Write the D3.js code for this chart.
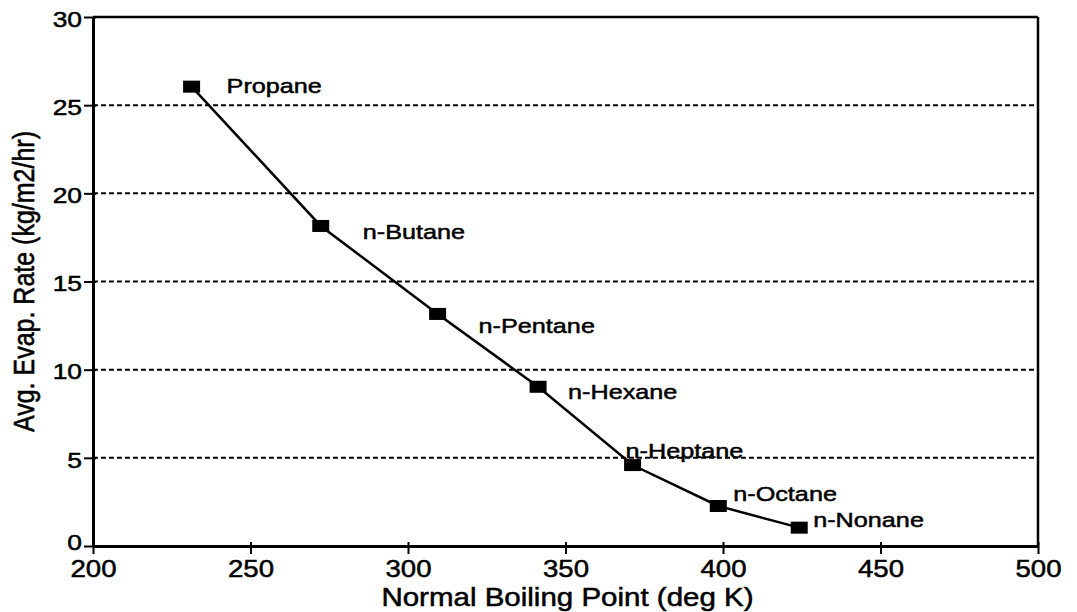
<!DOCTYPE html>
<html>
<head>
<meta charset="utf-8">
<script src="https://cdn.jsdelivr.net/npm/d3@7"></script>
<style>
  html, body { margin: 0; padding: 0; background: #fff; }
  svg { display: block; }
  text { font-family: "Liberation Sans", Arial, Helvetica, sans-serif; fill: #000; stroke: #000; stroke-width: 0.5px; }
</style>
</head>
<body>
<svg id="chart" width="1077" height="612"></svg>
<script>
// ---- data ----
const compounds = ["Propane", "n-Butane", "n-Pentane", "n-Hexane", "n-Heptane", "n-Octane", "n-Nonane"];
const boilingPoints = [231.3, 272.3, 309.4, 341.3, 371.3, 398.5, 424.2];   // deg K
const evapRates = [26.05, 18.15, 13.16, 9.03, 4.59, 2.27, 1.04];          // kg/m2/hr
const xTicks = [200, 250, 300, 350, 400, 450, 500];
const yTicks = [0, 5, 10, 15, 20, 25, 30];
const xTitle = "Normal Boiling Point  (deg K)";
const yTitle = "Avg. Evap. Rate (kg/m2/hr)";
// label placement offsets (px) relative to each point
const labelOffsets = [[35, 6], [42, 13], [41, 19], [30, 12], [-7, -7], [15, -5], [14, -1]];

// ---- layout ----
const W = 1077, H = 612;
const margin = { top: 17, right: 39, bottom: 66, left: 93 };
const iw = W - margin.left - margin.right;
const ih = H - margin.top - margin.bottom;

const svg = d3.select("#chart");
const g = svg.append("g").attr("transform", `translate(${margin.left},${margin.top})`);

const x = d3.scaleLinear().domain([200, 500]).range([0, iw]);
const y = d3.scaleLinear().domain([0, 30]).range([ih, 0]);

function stretch(sel, f) {
  sel.each(function () {
    const len = this.getComputedTextLength();
    d3.select(this).attr("textLength", len * f).attr("lengthAdjust", "spacingAndGlyphs");
  });
}

// gridlines (dashed)
g.append("g")
  .selectAll("line")
  .data(yTicks.filter(d => d > 0 && d < 30))
  .join("line")
  .attr("x1", 0).attr("x2", iw)
  .attr("y1", d => y(d)).attr("y2", d => y(d))
  .attr("stroke", "#000")
  .attr("stroke-width", 2)
  .attr("stroke-dasharray", "5,3");

// frame top & right
g.append("line").attr("x1", 0).attr("x2", iw).attr("y1", 0).attr("y2", 0)
  .attr("stroke", "#000").attr("stroke-width", 2.5);
g.append("line").attr("x1", iw).attr("x2", iw).attr("y1", 0).attr("y2", ih)
  .attr("stroke", "#000").attr("stroke-width", 2.5);

// x axis
const xAxis = g.append("g")
  .attr("transform", `translate(0,${ih})`)
  .call(d3.axisBottom(x).tickValues(xTicks).tickFormat(d3.format("d")).tickSizeOuter(0).tickSizeInner(8).tickPadding(6));
xAxis.select(".domain").attr("stroke", "#000").attr("stroke-width", 3);
xAxis.selectAll(".tick line").attr("stroke", "#000").attr("stroke-width", 2).attr("y1", -4);
xAxis.selectAll(".tick text").attr("font-size", 24).attr("fill", "#000")
  .attr("font-family", "Liberation Sans, Arial, sans-serif");

// y axis
const yAxis = g.append("g")
  .call(d3.axisLeft(y).tickValues(yTicks).tickFormat(d3.format("d")).tickSizeOuter(0).tickSizeInner(9).tickPadding(2));
yAxis.select(".domain").attr("stroke", "#000").attr("stroke-width", 3);
yAxis.selectAll(".tick line").attr("stroke", "#000").attr("stroke-width", 2).attr("x1", 3);
yAxis.selectAll(".tick text").attr("font-size", 22).attr("fill", "#000")
  .attr("dy", d => d === 0 ? "0.18em" : "0.42em")
  .attr("font-family", "Liberation Sans, Arial, sans-serif");

// data line
const pts = boilingPoints.map((b, i) => ({ b, r: evapRates[i], name: compounds[i], off: labelOffsets[i] }));
g.append("path")
  .datum(pts)
  .attr("fill", "none")
  .attr("stroke", "#000")
  .attr("stroke-width", 2.5)
  .attr("d", d3.line().x(d => x(d.b)).y(d => y(d.r)));

// markers
const mw = 17, mh = 12;
g.append("g").selectAll("rect")
  .data(pts)
  .join("rect")
  .attr("x", d => x(d.b) - mw / 2)
  .attr("y", d => y(d.r) - mh / 2)
  .attr("width", mw).attr("height", mh)
  .attr("fill", "#000");

// point labels
const labels = g.append("g").selectAll("text")
  .data(pts)
  .join("text")
  .attr("x", d => x(d.b) + d.off[0])
  .attr("y", d => y(d.r) + d.off[1])
  .attr("font-size", 21)
  .text(d => d.name);

// axis titles
const xt = svg.append("text")
  .attr("x", margin.left + iw / 2 + 2)
  .attr("y", 606)
  .attr("text-anchor", "middle")
  .attr("font-size", 25)
  .text(xTitle);

svg.append("text")
  .attr("transform", `translate(34,${margin.top + ih / 2}) scale(1.15,1) rotate(-90)`)
  .attr("text-anchor", "middle")
  .attr("font-size", 25)
  .text(yTitle);

// horizontal stretch to mimic the scanned original's aspect
stretch(labels, 1.2);
stretch(xAxis.selectAll(".tick text"), 1.15);
stretch(yAxis.selectAll(".tick text"), 1.2);
stretch(xt, 1.18);
</script>
</body>
</html>
